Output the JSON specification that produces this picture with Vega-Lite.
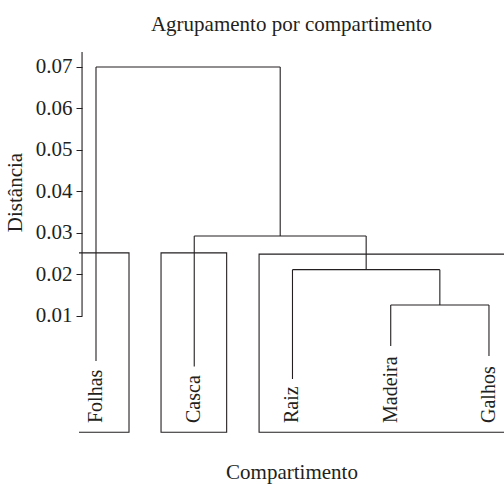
{
  "$schema": "https://vega.github.io/schema/vega-lite/v6.json",
  "width": 425,
  "height": 382,
  "autosize": "none",
  "padding": {"left": 79, "top": 52, "right": 0, "bottom": 50},
  "background": "white",
  "config": {
    "view": {"stroke": null},
    "font": "Liberation Serif",
    "title": {"font": "Liberation Serif", "fontSize": 21, "fontWeight": "normal", "color": "#231f20"},
    "axis": {"labelFont": "Liberation Serif", "titleFont": "Liberation Serif", "titleFontWeight": "normal", "labelColor": "#231f20", "titleColor": "#231f20", "tickColor": "#231f20", "grid": false}
  },
  "title": {"text": "Agrupamento por compartimento", "anchor": "middle", "offset": 16},
  "datasets": {
    "segments": [
      {"x": 1, "x2": 1, "y": -0.00084, "y2": 0.07},
      {"x": 1, "x2": 2.875, "y": 0.07, "y2": 0.07},
      {"x": 2.875, "x2": 2.875, "y": 0.02928, "y2": 0.07},
      {"x": 2, "x2": 3.75, "y": 0.02928, "y2": 0.02928},
      {"x": 2, "x2": 2, "y": -0.00217, "y2": 0.02928},
      {"x": 3.75, "x2": 3.75, "y": 0.02116, "y2": 0.02928},
      {"x": 3, "x2": 4.5, "y": 0.02116, "y2": 0.02116},
      {"x": 3, "x2": 3, "y": -0.00518, "y2": 0.02116},
      {"x": 4.5, "x2": 4.5, "y": 0.01265, "y2": 0.02116},
      {"x": 4, "x2": 5, "y": 0.01265, "y2": 0.01265},
      {"x": 4, "x2": 4, "y": 0.00277, "y2": 0.01265},
      {"x": 5, "x2": 5, "y": 0.00036, "y2": 0.01265}
    ],
    "boxes": [
      {"x": 0.66, "x2": 1.336, "y": -0.018, "y2": 0.0252},
      {"x": 1.662, "x2": 2.33, "y": -0.018, "y2": 0.0252},
      {"x": 2.66, "x2": 5.34, "y": -0.018, "y2": 0.0249}
    ],
    "labels": [
      {"x": 1, "y": -0.01578, "label": "Folhas"},
      {"x": 2, "y": -0.01578, "label": "Casca"},
      {"x": 3, "y": -0.01578, "label": "Raiz"},
      {"x": 4, "y": -0.01578, "label": "Madeira"},
      {"x": 5, "y": -0.01578, "label": "Galhos"}
    ],
    "axisline": [
      {"x": 0.858, "y": 0.01, "y2": 0.0736}
    ]
  },
  "layer": [
    {
      "data": {"name": "boxes"},
      "mark": {"type": "rect", "fill": null, "stroke": "#231f20", "strokeWidth": 1.1, "clip": true},
      "encoding": {
        "x": {"field": "x", "type": "quantitative", "scale": {"domain": [0.827, 5.153], "nice": false, "zero": false},
          "axis": {"title": "Compartimento", "labels": false, "ticks": false, "domain": false, "titleFontSize": 21, "titlePadding": 27}},
        "x2": {"field": "x2"},
        "y": {"field": "y", "type": "quantitative", "scale": {"domain": [-0.01843, 0.0736], "nice": false, "zero": false},
          "axis": {"title": "Distância", "values": [0.01, 0.02, 0.03, 0.04, 0.05, 0.06, 0.07], "format": ".2f", "domain": false, "offset": -3, "tickSize": 6, "labelPadding": 4, "labelFontSize": 21, "titleFontSize": 21, "titlePadding": 10, "titleY": 140}},
        "y2": {"field": "y2"}
      }
    },
    {
      "data": {"name": "segments"},
      "mark": {"type": "rule", "stroke": "#231f20", "strokeWidth": 1.1, "clip": true},
      "encoding": {
        "x": {"field": "x", "type": "quantitative"},
        "x2": {"field": "x2"},
        "y": {"field": "y", "type": "quantitative"},
        "y2": {"field": "y2"}
      }
    },
    {
      "data": {"name": "axisline"},
      "mark": {"type": "rule", "stroke": "#231f20", "strokeWidth": 1.1},
      "encoding": {
        "x": {"field": "x", "type": "quantitative"},
        "y": {"field": "y", "type": "quantitative"},
        "y2": {"field": "y2"}
      }
    },
    {
      "data": {"name": "labels"},
      "mark": {"type": "text", "angle": 270, "align": "left", "baseline": "middle", "fontSize": 20, "color": "#231f20", "font": "Liberation Serif"},
      "encoding": {
        "x": {"field": "x", "type": "quantitative"},
        "y": {"field": "y", "type": "quantitative"},
        "text": {"field": "label"}
      }
    }
  ]
}
